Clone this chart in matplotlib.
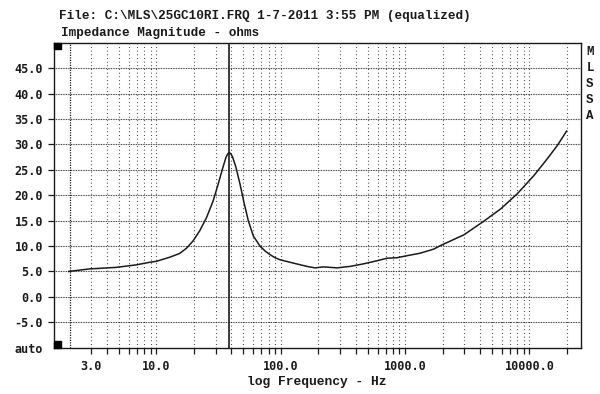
import matplotlib
matplotlib.use("Agg")
import matplotlib.pyplot as plt
from matplotlib.patches import Rectangle
from matplotlib.ticker import FixedLocator, NullFormatter

# impedance magnitude (Hz, ohms)
freq = [1.97, 2.9, 4.75, 6.9, 8.8, 10, 12.8, 15.4, 17.5, 19.7, 22.3, 25.3, 28.6,
        31.4, 34.0, 36.2, 37.4, 38.5, 39.8, 41, 43.6, 47, 50.9, 54.8, 60.1, 68,
        75, 82, 90, 98.6, 126, 162, 189, 221, 283, 362, 464, 594, 716, 861,
        1037, 1328, 1700, 1928, 2972, 4306, 5870, 8000, 10900, 13960, 16800,
        19900]
impedance = [5.0, 5.5, 5.8, 6.3, 6.8, 7.0, 7.8, 8.55, 9.6, 11.0, 13.0, 15.6, 18.9,
             22.2, 25.2, 27.4, 28.1, 28.4, 28.1, 27.5, 25.5, 22.2, 18.3, 15.0, 12.0, 10.0,
             9.0, 8.3, 7.7, 7.3, 6.65, 6.0, 5.7, 5.9, 5.7, 6.0, 6.5, 7.1, 7.6, 7.7,
             8.1, 8.6, 9.4, 10.1, 12.2, 14.9, 17.3, 20.3, 23.9, 27.2, 29.8,
             32.6]

cursor_freq = 38.3
start_freq = 2.0
xtick_vals = [3, 10, 100, 1000, 10000]
xtick_labels = ["3.0", "10.0", "100.0", "1000.0", "10000.0"]
ytick_vals = [-10, -5, 0, 5, 10, 15, 20, 25, 30, 35, 40, 45]
ytick_labels = ["auto"] + [f"{v:.1f}" for v in ytick_vals[1:]]
side_letters = ["M", "L", "S", "S", "A"]

ink = "#1a1a1a"
mono = "Liberation Mono"

fig = plt.figure(figsize=(6.0, 3.94), dpi=100)
ax = fig.add_axes([54 / 600, 1 - 347.7 / 394, 527 / 600, 305 / 394])

ax.set_xscale("log")
ax.set_xlim(1.5, 26000)
ax.set_ylim(-10, 50)

# grid: sparse dotted verticals at every 1..9 multiple, denser dotted horizontals
minor = [m * 10 ** e for e in range(0, 5) for m in range(1, 10)]
minor = [v for v in minor if 3 <= v <= 20000]
for v in minor:
    ax.axvline(v, color=ink, lw=0.8, ls=(0, (0.7, 2.6)), zorder=1)
for v in ytick_vals[1:]:
    ax.axhline(v, color=ink, lw=0.8, ls=(0, (0.7, 0.8)), zorder=1)
ax.axvline(start_freq, color=ink, lw=0.9, ls=(0, (1.0, 1.0)), zorder=1)
ax.axvline(cursor_freq, color=ink, lw=1.2, zorder=2)

ax.plot(freq, impedance, color=ink, lw=1.1, zorder=3)

ax.xaxis.set_major_locator(FixedLocator(xtick_vals))
ax.xaxis.set_minor_locator(FixedLocator([v for v in minor if v not in xtick_vals]))
ax.xaxis.set_minor_formatter(NullFormatter())
ax.set_xticks(xtick_vals, xtick_labels)
ax.set_yticks(ytick_vals, ytick_labels)
ax.tick_params(axis="both", which="both", direction="out", color=ink, width=0.9,
               length=4, labelsize=8.5, labelcolor=ink)
ax.tick_params(axis="x", pad=5)
ax.tick_params(axis="y", pad=4)
ax.yaxis.get_major_ticks()[0].tick1line.set_visible(False)
for lab in ax.get_xticklabels() + ax.get_yticklabels():
    lab.set_fontfamily("DejaVu Sans Mono")
    lab.set_fontweight("bold")

for s in ax.spines.values():
    s.set_color(ink)
    s.set_linewidth(1.0)

# little black corner markers
ax.add_patch(Rectangle((0, 1 - 0.021), 0.0125, 0.021, transform=ax.transAxes,
                       color="black", zorder=4, clip_on=False))
ax.add_patch(Rectangle((0, 0), 0.0125, 0.021, transform=ax.transAxes,
                       color="black", zorder=4, clip_on=False))

fig.text(59 / 600, 1 - 16 / 394,
         "File: C:\\MLS\\25GC10RI.FRQ 1-7-2011 3:55 PM (equalized)",
         family=mono, weight="bold", fontsize=9.1, color=ink, ha="left", va="center")
fig.text(61 / 600, 1 - 33 / 394, "Impedance Magnitude - ohms",
         family=mono, weight="bold", fontsize=9.1, color=ink, ha="left", va="center")
fig.text(317 / 600, 1 - 382 / 394, "log Frequency - Hz",
         family=mono, weight="bold", fontsize=9.4, color=ink, ha="center", va="center")

for i, ch in enumerate(side_letters):
    fig.text(590 / 600, 1 - (52 + 16 * i) / 394, ch, family=mono, weight="bold",
             fontsize=9, color=ink, ha="center", va="center")

fig.savefig("out.png", dpi=100, facecolor="white")
